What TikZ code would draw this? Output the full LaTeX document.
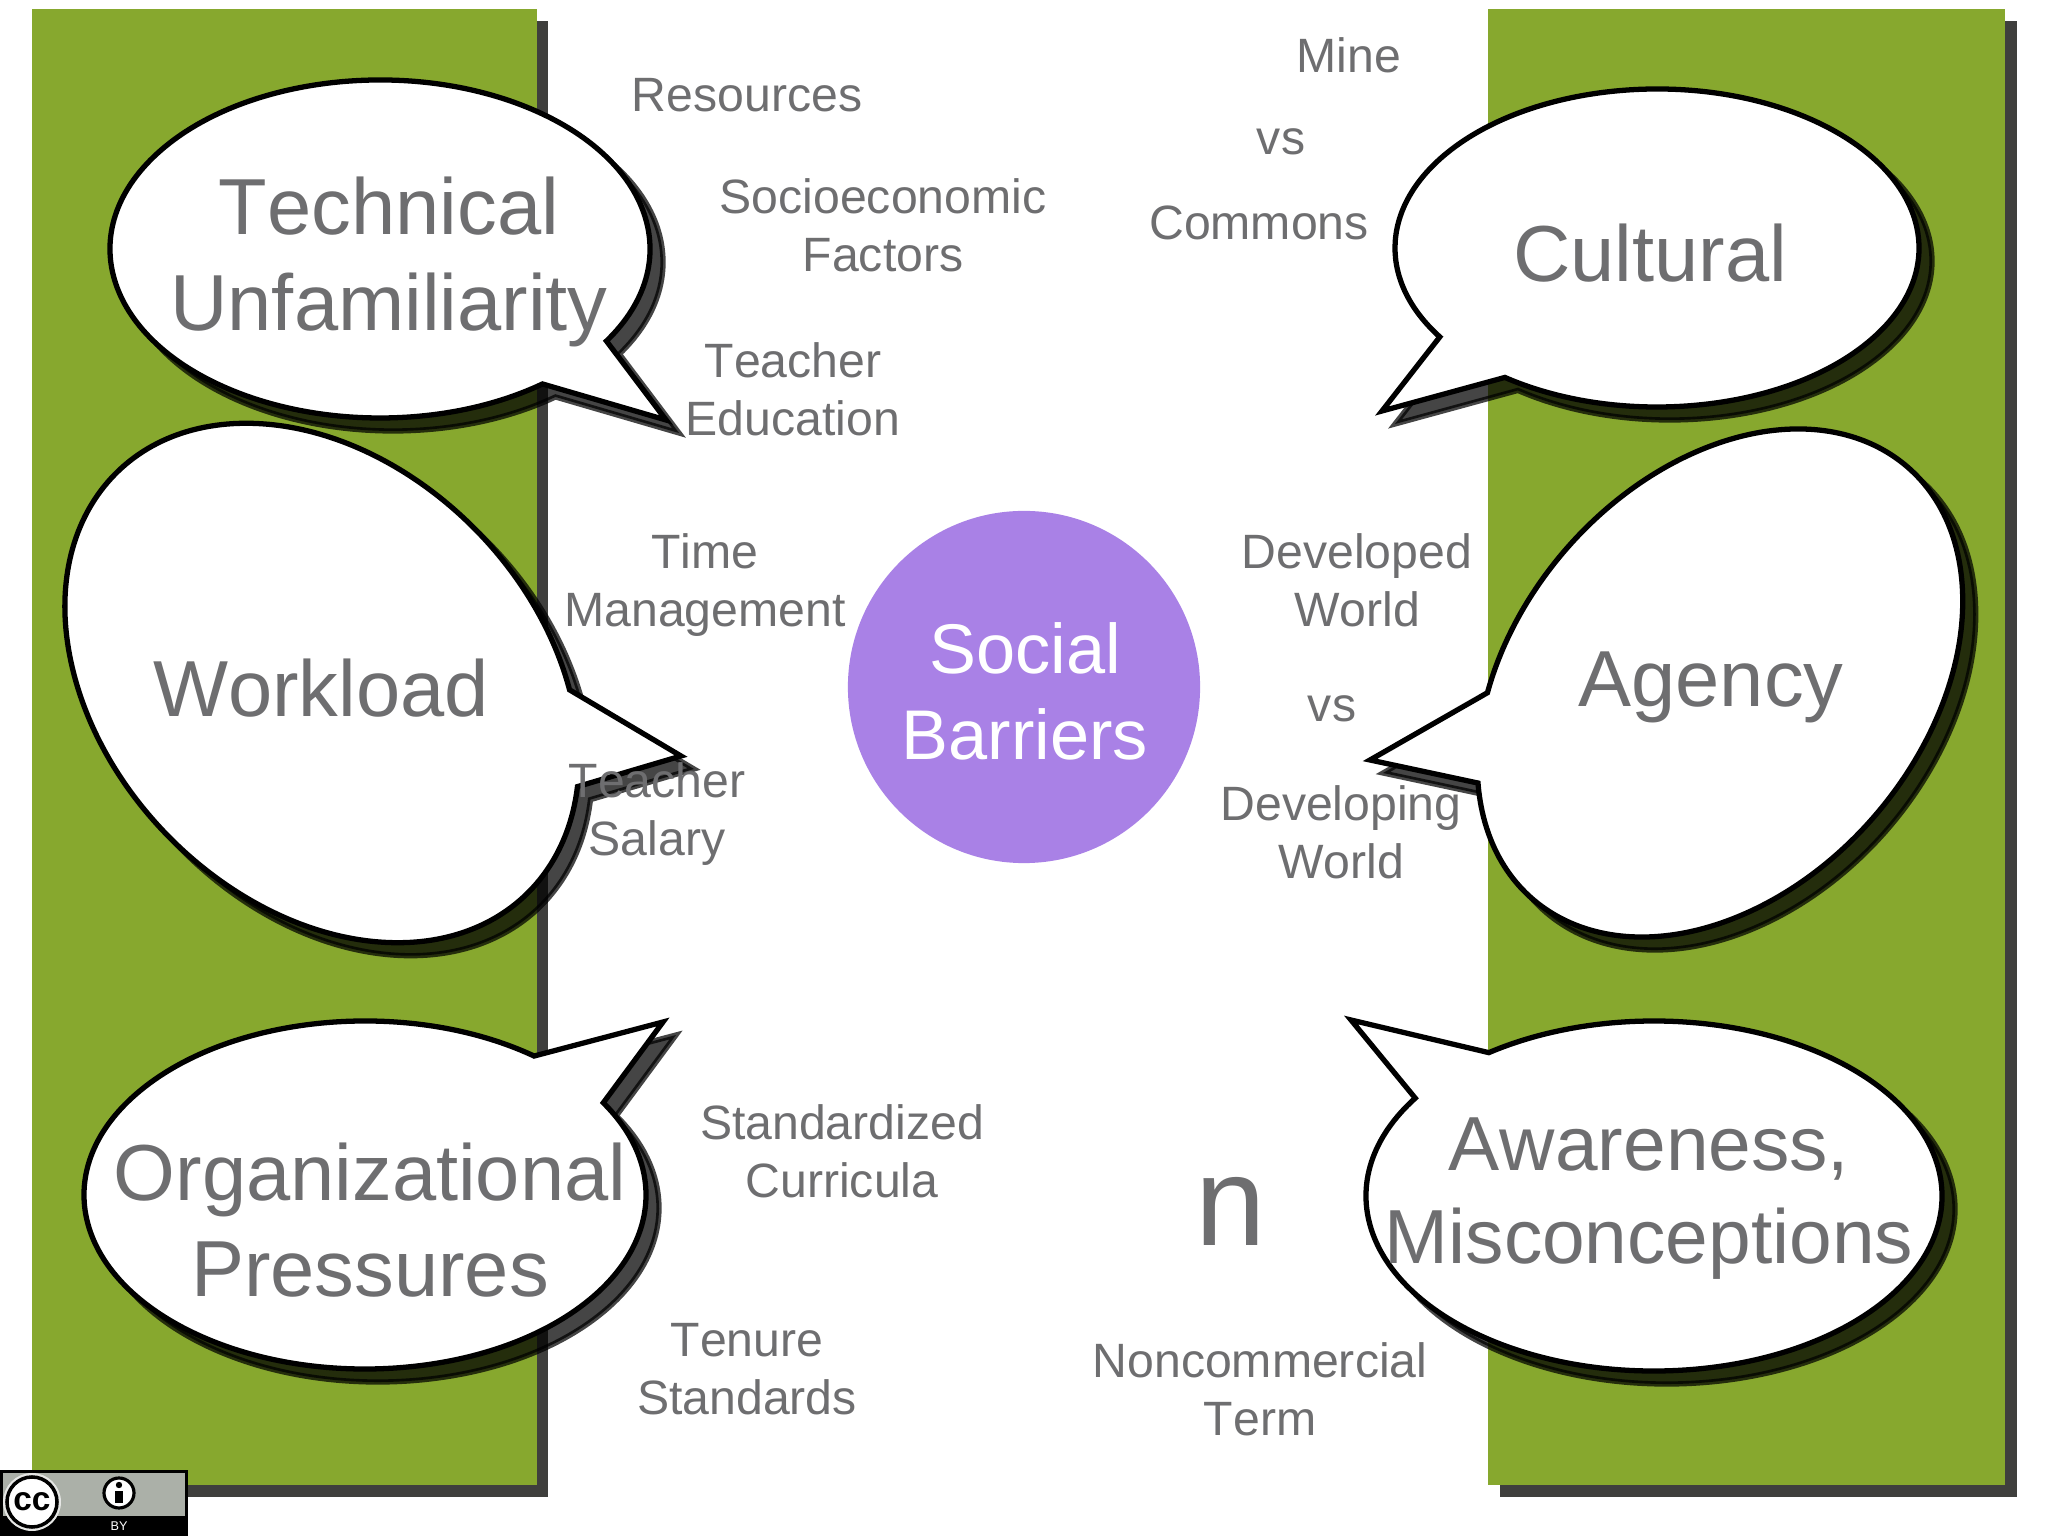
\documentclass[tikz,border=0pt]{standalone}
\usepackage{fontspec}
\setmainfont[Kerning=Off]{Liberation Sans}
\usepackage{xcolor}
\usetikzlibrary{positioning}
\definecolor{leafgreen}{HTML}{87A82E}
\definecolor{boxshadow}{HTML}{3F3F3D}
\definecolor{barrierpurple}{HTML}{A981E6}
\definecolor{textgray}{HTML}{6E6E70}
\definecolor{badgegray}{HTML}{ABB0A8}
\newcommand{\drawbubbles}[1]{%
  \foreach \cx/\cy/\rx/\ry/\rot/\sa/\ea/\tip in {
      380/1287/270/169/0/-33/307/tiptech,
      1657/1288/262/159/0/234.5/574/tipcult,
      322/853/294/217/-46/53/391/tipwork,
      1720/853/286/204/49/145/484/tipagency,
      365/341/281/174/0/53/392/tiporg,
      1654/340/288/175/0/146/485/tipaware} {
    \begin{scope}[shift={(\cx,\cy)},rotate=\rot]
      \draw[#1] ({\rx*cos(\sa)},{\ry*sin(\sa)}) arc[start angle=\sa,end angle=\ea,x radius=\rx,y radius=\ry] -- (\tip) -- cycle;
    \end{scope}
  }%
}
\tikzset{
  smalllabel/.style={align=center,text=textgray,inner sep=0pt,font=\fontsize{13.7}{16.5}\selectfont},
  biglabel/.style={align=center,text=textgray,inner sep=0pt,font=\fontsize{22.6}{27.1}\selectfont},
  bubbleshape/.style={draw=black,line width=1.5pt,fill=white,miter limit=20},
  bubbleshadow/.style={draw=black,line width=1.5pt,fill=black,fill opacity=0.73,draw opacity=0.73,miter limit=20},
}

\begin{document}
\begin{tikzpicture}[x=0.01cm,y=0.01cm]
    \useasboundingbox (0,0) rectangle (2048,1536);
    \fill[white] (0,0) rectangle (2048,1536);

    % green side panels and their shadows
    \fill[boxshadow] (44,39) rectangle (548,1515);
    \fill[boxshadow] (1500,39) rectangle (2017,1515);
    \fill[leafgreen] (32,51) rectangle (537,1527);
    \fill[leafgreen] (1488,51) rectangle (2005,1527);

    % tail tips of the bubbles
    \coordinate (tiptech) at (666,1116);
    \coordinate (tipcult) at (1382,1125);
    \coordinate (tipwork) at (681,780);
    \coordinate (tipagency) at (1370,776);
    \coordinate (tiporg) at (663,514);
    \coordinate (tipaware) at (1351,516);

    % bubbles, shadow first
    \begin{scope}[transform canvas={xshift=0.13cm,yshift=-0.13cm}]
      \drawbubbles{bubbleshadow}
    \end{scope}
    \drawbubbles{bubbleshape}

    % centre circle
    \node[circle,fill=barrierpurple,minimum size=3.52cm,inner sep=0pt] (barriers) at (1024,849) {};
    \node[text=white,align=center,inner sep=0pt,font=\fontsize{20}{24.4}\selectfont] (barrierstext) at (1025,845) {Social\\Barriers};

    % bubble titles
    \node[biglabel] (technical) at (389,1274) {Technical\\Unfamiliarity};
    \node[biglabel] (cultural) at (1650,1283) {Cultural};
    \node[biglabel] (workload) at (321,848) {Workload};
    \node[biglabel] (agency) at (1711,849) {Agency};
    \node[biglabel] (organizational) at (370,316) {Organizational\\Pressures};
    \node[biglabel,font=\fontsize{21.8}{26.4}\selectfont] (awareness) at (1649,337) {Awareness,\\Misconceptions};

    % left column labels
    \node[smalllabel] (resources) at (747,1441) {Resources};
    \node[smalllabel] (socio) at (883,1311) {Socioeconomic\\Factors};
    \node[smalllabel] (education) at (793,1147) {Teacher\\Education};
    \node[smalllabel] (time) at (705,951) {Time\\Management};
    \node[smalllabel] (salary) at (657,722) {Teacher\\Salary};
    \node[smalllabel] (curricula) at (842,385) {Standardized\\Curricula};
    \node[smalllabel] (tenure) at (747,167) {Tenure\\Standards};

    % right column labels
    \node[smalllabel] (mine) at (1349,1481) {Mine};
    \node[smalllabel] (vsa) at (1281,1394) {vs};
    \node[smalllabel] (commons) at (1259,1313) {Commons};
    \node[smalllabel] (developed) at (1357,956) {Developed\\World};
    \node[smalllabel] (vsb) at (1332,827) {vs};
    \node[smalllabel] (developing) at (1341,704) {Developing\\World};
    \node[text=textgray,inner sep=0pt,font=\fontsize{36}{42}\selectfont] (bign) at (1231,325) {n};
    \node[smalllabel] (noncomm) at (1260,147) {Noncommercial\\Term};

    % licence badge
    \fill[black] (0,0) rectangle (188,66);
    \fill[badgegray] (3,20) rectangle (185,63);
    \fill[white!70!badgegray] (32,34) circle (29);
    \node[circle,draw=black,line width=1pt,fill=white,minimum size=0.5cm,inner sep=0pt,
          font=\bfseries\fontsize{9.5}{10}\selectfont] (ccmark) at (32,34) {cc};
    \node[circle,draw=black,line width=0.9pt,fill=white,minimum size=0.3cm,inner sep=0pt] (bymark) at (119,43) {};
    \fill[black] (119,51) circle (3.2);
    \fill[black] (115,45) rectangle (123,33);
    \node[text=white,inner sep=0pt,font=\fontsize{3.6}{4}\selectfont] (bytext) at (119,10) {BY};
\end{tikzpicture}
\end{document}
